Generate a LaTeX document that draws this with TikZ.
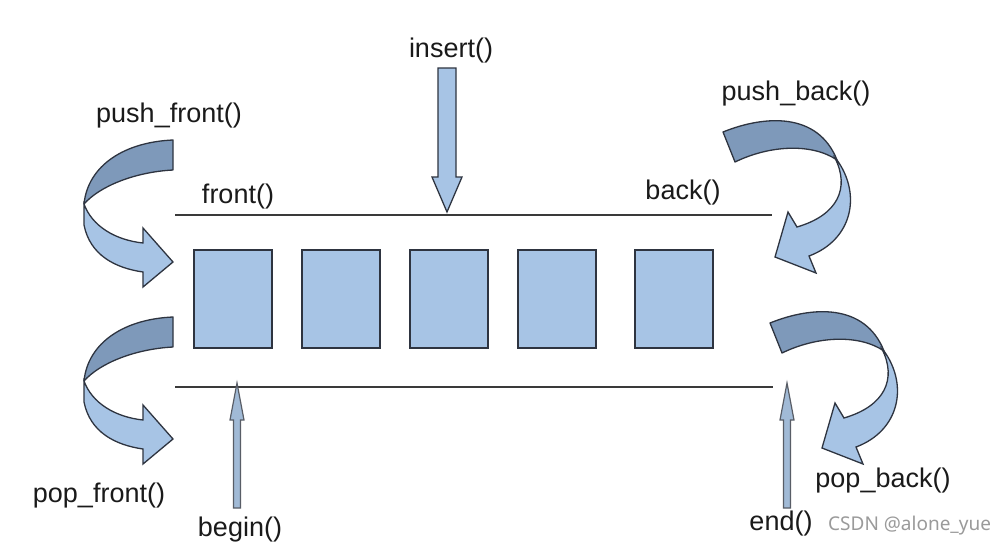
\documentclass[tikz,border=0pt]{standalone}
\usepackage{fontspec}
\setmainfont{Liberation Sans}
\newfontfamily\markfont{Noto Sans}
\definecolor{cellfill}{HTML}{A7C4E5}
\definecolor{ribbondark}{HTML}{7E99BA}
\definecolor{ribbonlight}{HTML}{A7C4E5}
\definecolor{edge}{HTML}{2E3440}
\definecolor{rail}{HTML}{3A3A3A}
\definecolor{ink}{HTML}{1A1A1A}
\definecolor{markgray}{HTML}{9A9A9A}
\tikzset{
  cell/.style={draw=edge, line width=1.8pt, fill=cellfill, minimum width=78pt, minimum height=98pt, inner sep=0pt},
  railline/.style={draw=rail, line width=1.6pt},
  lbl/.style={anchor=base, text=ink, inner sep=0pt, font=\fontsize{27}{32}\selectfont},
  ribbonback/.style={draw=edge, line width=1.3pt, fill=ribbondark, line join=round},
  ribbonfront/.style={draw=edge, line width=1.3pt, fill=ribbonlight, line join=miter},
  fatarrow/.style={draw=edge, line width=1.3pt, fill=ribbonlight},
  thinarrow/.style={draw=edge!80, line width=1.2pt, fill=ribbonlight!85!gray},
  % slim upward arrow, foot at the pic origin
  uparrow/.pic={\draw[thinarrow] (-3.5,0) -- (-3.5,-88) -- (-7,-88) -- (0,-125) -- (7,-88) -- (3.5,-88) -- (3.5,0) -- cycle;},
  % curved ribbon arrow on the left side (turns from right, round the left, back to the right)
  leftribbon/.pic={
    \draw[ribbonback] (173,140) .. controls (125,142) and (88,165) .. (84,204)
                      .. controls (100,186) and (135,172) .. (173,170) -- cycle;
    \draw[ribbonfront] (84,204) -- (84,225) .. controls (90,255) and (115,268) .. (143,272)
                      -- (143,287) -- (173,262) -- (143,228) -- (143,243)
                      .. controls (115,240) and (92,226) .. (84,204) -- cycle;
  },
  % curved ribbon arrow on the right side
  rightribbon/.pic={
    \draw[ribbonback] (723,132) .. controls (765,115) and (818,112) .. (837,160)
                      .. controls (812,143) and (770,145) .. (735,162) -- cycle;
    \draw[ribbonfront] (835,158) .. controls (850,188) and (838,215) .. (797,227)
                      -- (788,212) -- (775,257) -- (816,273) -- (809,256)
                      .. controls (852,240) and (862,195) .. (837,160) -- cycle;
  }
}
\begin{document}
\begin{tikzpicture}[x=1pt, y=-1pt]
  \useasboundingbox[fill=white] (0,0) rectangle (1007,555);

  % the two rails of the container
  \coordinate (topL) at (175,215);
  \coordinate (topR) at (772,215);
  \coordinate (botL) at (175,387);
  \coordinate (botR) at (773,387);
  \draw[railline] (topL) -- (topR);
  \draw[railline] (botL) -- (botR);

  % elements
  \node[cell] (e1) at (233,299) {};
  \node[cell] (e2) at (341,299) {};
  \node[cell] (e3) at (449,299) {};
  \node[cell] (e4) at (557,299) {};
  \node[cell] (e5) at (674,299) {};

  % insert() arrow
  \coordinate (insTail) at (447,68);
  \coordinate (insTip) at (447,212);
  \draw[fatarrow] (438,68) -- (456,68) -- (456,177) -- (462,177) -- (insTip)
                  -- (432,177) -- (438,177) -- cycle;

  % curved arrows
  \pic (pushfront) at (0,0) {leftribbon};
  \pic (popfront) at (0,177) {leftribbon};
  \pic (pushback) at (0,0) {rightribbon};
  \pic (popback) at (47,191) {rightribbon};

  % iterators
  \coordinate (beginFoot) at (237,508);
  \coordinate (endFoot) at (787,508);
  \pic at (beginFoot) {uparrow};
  \pic at (endFoot) {uparrow};

  % labels
  \node[lbl] (tInsert) at (451,57) {insert()};
  \node[lbl] (tPushFront) at (169,122) {push\_front()};
  \node[lbl] (tFront) at (238,203) {front()};
  \node[lbl] (tBack) at (683,199) {back()};
  \node[lbl] (tPushBack) at (796,100) {push\_back()};
  \node[lbl] (tPopFront) at (99,502) {pop\_front()};
  \node[lbl] (tBegin) at (240,536) {begin()};
  \node[lbl] (tEnd) at (781,530) {end()};
  \node[lbl] (tPopBack) at (883,487) {pop\_back()};
  \node[anchor=base west, inner sep=0pt, text=markgray, font=\markfont\fontsize{19}{22}\selectfont] (mark) at (828,530) {CSDN @alone\_yue};
\end{tikzpicture}
\end{document}
